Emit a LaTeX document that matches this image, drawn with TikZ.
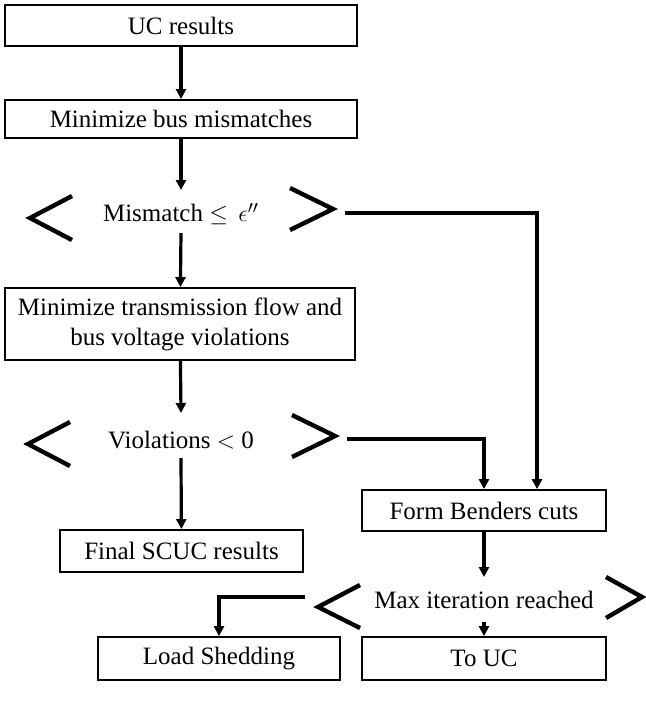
\documentclass[tikz,border=0pt]{standalone}
\usepackage{fontspec}
\setmainfont{Liberation Serif}
\usetikzlibrary{arrows.meta}
\begin{document}
\begin{tikzpicture}[x=0.5pt,y=-0.5pt,
  lbl/.style={font=\fontsize{12.5}{15}\selectfont},
  box/.style={draw, line width=0.9pt, inner sep=1pt, align=center, lbl},
  dec/.style={inner sep=0pt, lbl},
  conn/.style={line width=1.6pt, -{Triangle[length=5pt,width=5pt]}},
  wire/.style={line width=1.6pt},
  chev/.style={line width=2.2pt}]
\useasboundingbox (0,0) rectangle (645,703);
% boxes
\node[box, minimum width=176pt, minimum height=20.5pt] (uc) at (181,25.5) {UC results};
\node[box, minimum width=176pt, minimum height=19pt] (mb) at (181,119) {Minimize bus mismatches};
\node[box, minimum width=175pt, minimum height=36pt] (mt) at (180,324) {Minimize transmission flow and\\bus voltage violations};
\node[box, minimum width=121.5pt, minimum height=21pt] (fs) at (181.5,551) {Final SCUC results};
\node[box, minimum width=122pt, minimum height=20.5pt] (fb) at (484,510.5) {Form Benders cuts};
\node[box, minimum width=121pt, minimum height=21.5pt] (ls) at (219,658.5) {Load Shedding};
\node[box, minimum width=122pt, minimum height=21.5pt] (tu) at (484,658.5) {To UC};
% decisions
\node[dec] (d1) at (181,214) {Mismatch $\leq$\, $\epsilon''$};
\node[dec] (d2) at (181,440) {Violations $<$ 0};
\node[dec] (d3) at (484,600) {Max iteration reached};
\draw[chev] (72,196) -- (30,218) -- (72,240);
\draw[chev] (290,188) -- (333,209) -- (290,230);
\draw[chev] (70,422) -- (28,444) -- (70,466);
\draw[chev] (292,415) -- (335,436) -- (292,457);
\draw[chev] (360,585) -- (318,607) -- (360,628);
\draw[chev] (606,577) -- (642,597) -- (606,618);
% connector ends
\coordinate (d1n) at (181,190);
\coordinate (d1s) at (181,233);
\coordinate (d1r) at (345,213);
\coordinate (d2n) at (181,413);
\coordinate (d2s) at (181,458);
\coordinate (d2r) at (347,439);
\coordinate (d3n) at (484,577);
\coordinate (d3s) at (484,622);
\coordinate (d3l) at (305,597);
% connectors
\draw[conn] (uc) -- (mb);
\draw[conn] (mb) -- (d1n);
\draw[conn] (d1s) -- (mt);
\draw[conn] (mt) -- (d2n);
\draw[conn] (d2s) -- (fs);
\draw[conn] (d1r) -| ([xshift=26.5pt]fb.north);
\draw[conn] (d2r) -| (fb.north);
\draw[conn] (fb) -- (d3n);
\draw[conn] (d3s) -- (tu);
\draw[conn] (d3l) -| (ls.north);
\end{tikzpicture}
\end{document}
